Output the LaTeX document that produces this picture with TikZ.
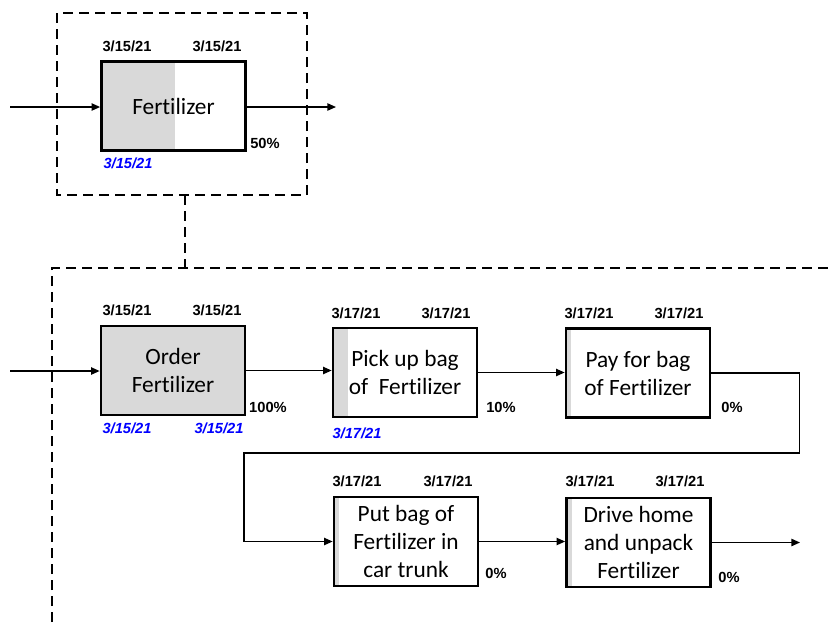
\documentclass[tikz,border=0pt]{standalone}
\usepackage{fontspec}
\setmainfont[Ligatures=NoCommon]{Carlito}
\newfontfamily\datefont{Liberation Sans}
\usetikzlibrary{arrows.meta}
\definecolor{donegray}{RGB}{217,217,217}
\definecolor{dateblue}{RGB}{0,0,255}
\tikzset{
  task/.style={draw, line width=2pt, minimum width=108pt, minimum height=66.75pt,
    inner sep=0pt, align=center, font=\fontsize{17.5}{21}\selectfont,
    path picture={\fill[donegray] (path picture bounding box.south west)
      rectangle ([xshift=#1]path picture bounding box.north west);}},
  task/.default=0pt,
  datelbl/.style={font=\datefont\bfseries\fontsize{11}{13}\selectfont, inner sep=0pt},
  actual/.style={font=\datefont\bfseries\itshape\fontsize{11}{13}\selectfont,
    inner sep=0pt, text=dateblue},
  flow/.style={line width=1.1pt, -{Triangle[length=6.5pt,width=5.5pt]}},
  frame/.style={line width=2.2pt, dash pattern=on 7.5pt off 4.5pt},
}
\begin{document}
\begin{tikzpicture}[x=0.75pt, y=-0.75pt]
\useasboundingbox (0,0) rectangle (831,622);

% summary task and its frame
\draw[frame] (57,13) rectangle (307,195);
\draw[frame] (185,195) -- (185,268);
\draw[frame] (52,622) -- (52,268) -- (831,268);

% task boxes (fill width shows progress)
\node[task=54.75pt] (fert)  at (173.5,106)  {Fertilizer};
\node[task=108pt]   (order) at (173,370.5)  {Order\\Fertilizer};
\node[task=11pt]    (pick)  at (405,372.5)  {Pick up bag\\of~ Fertilizer};
\node[task=4pt]     (pay)   at (638,373)    {Pay for bag\\of Fertilizer};
\node[task=4pt]     (put)   at (406,541.5)  {Put bag of\\Fertilizer in\\car trunk};
\node[task=4pt]     (drive) at (638.5,542.5){Drive home\\and unpack\\Fertilizer};

% planned start / finish dates
\node[datelbl] (fertS)  at (127,46)  {3/15/21};
\node[datelbl] (fertF)  at (217,46)  {3/15/21};
\node[datelbl] (orderS) at (127,310) {3/15/21};
\node[datelbl] (orderF) at (217,310) {3/15/21};
\node[datelbl] (pickS)  at (356,313) {3/17/21};
\node[datelbl] (pickF)  at (446,313) {3/17/21};
\node[datelbl] (payS)   at (589,313) {3/17/21};
\node[datelbl] (payF)   at (679,313) {3/17/21};
\node[datelbl] (putS)   at (357,481) {3/17/21};
\node[datelbl] (putF)   at (448,481) {3/17/21};
\node[datelbl] (driveS) at (590,481) {3/17/21};
\node[datelbl] (driveF) at (680,481) {3/17/21};

% actual dates
\node[actual] (fertA)   at (128,163) {3/15/21};
\node[actual] (orderAS) at (127,428) {3/15/21};
\node[actual] (orderAF) at (219,428) {3/15/21};
\node[actual] (pickA)   at (357,433) {3/17/21};

% percent complete
\node[datelbl] (fertP)  at (265,143) {50\%};
\node[datelbl] (orderP) at (268,407) {100\%};
\node[datelbl] (pickP)  at (501,407) {10\%};
\node[datelbl] (payP)   at (732,407) {0\%};
\node[datelbl] (putP)   at (496,573) {0\%};
\node[datelbl] (driveP) at (729,577) {0\%};

% connectors
\coordinate (fertIn)   at (10,107);
\coordinate (fertOut)  at (336,107);
\coordinate (orderIn)  at (10,371);
\coordinate (bendL)    at (244,453);
\coordinate (driveOut) at (800,542.5);

\draw[flow] (fertIn) -- (fertIn -| fert.west);
\draw[flow] (fertIn -| fert.east) -- (fertOut);
\draw[flow] (orderIn) -- (orderIn -| order.west);
\draw[flow] (order.east) -- (order.east -| pick.west);
\draw[flow] (pick.east) -- (pick.east -| pay.west);
\draw[flow] (pay.east) -- ++(88,0) |- (bendL) |- (put.west);
\draw[flow] (put.east) -- (put.east -| drive.west);
\draw[flow] (drive.east) -- (driveOut);
\end{tikzpicture}
\end{document}
